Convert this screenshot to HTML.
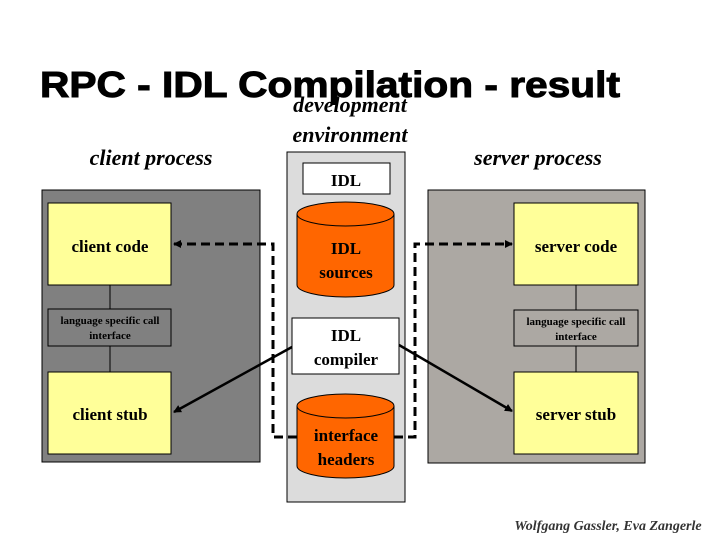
<!DOCTYPE html>
<html><head><style>
body{margin:0;background:#fff;}
svg text{font-family:"Liberation Serif",serif;}
</style></head><body>
<svg width="720" height="540" xmlns="http://www.w3.org/2000/svg">
<defs>
<marker id="ah" markerWidth="8" markerHeight="8" refX="7" refY="4" orient="auto" markerUnits="userSpaceOnUse"><path d="M0,0 L8,4 L0,8 z" fill="#000"/></marker>
</defs>
<text x="40" y="97" style="font-family:'Liberation Sans',sans-serif" font-weight="bold" font-size="36" textLength="580" lengthAdjust="spacingAndGlyphs" stroke="#000" stroke-width="1">RPC - IDL Compilation - result</text>
<text x="350" y="112" text-anchor="middle" font-style="italic" font-weight="bold" font-size="22">development</text>
<text x="350" y="142" text-anchor="middle" font-style="italic" font-weight="bold" font-size="22">environment</text>
<text x="151" y="165" text-anchor="middle" font-style="italic" font-weight="bold" font-size="22">client process</text>
<text x="538" y="165" text-anchor="middle" font-style="italic" font-weight="bold" font-size="22">server process</text>

<rect x="42" y="190" width="218" height="272" fill="#808080" stroke="#000"/>
<rect x="428" y="190" width="217" height="273" fill="#aca8a3" stroke="#000"/>
<rect x="287" y="152" width="118" height="350" fill="#dcdcdc" stroke="#000"/>

<line x1="110" y1="285" x2="110" y2="309" stroke="#000"/>
<line x1="110" y1="346" x2="110" y2="372" stroke="#000"/>
<line x1="576" y1="285" x2="576" y2="310" stroke="#000"/>
<line x1="576" y1="346" x2="576" y2="372" stroke="#000"/>

<rect x="48" y="203" width="123" height="82" fill="#ffff99" stroke="#000"/>
<text x="110" y="252" text-anchor="middle" font-weight="bold" font-size="17">client code</text>
<rect x="48" y="309" width="123" height="37" fill="#808080" stroke="#000"/>
<text x="110" y="324" text-anchor="middle" font-weight="bold" font-size="11">language specific call</text>
<text x="110" y="339" text-anchor="middle" font-weight="bold" font-size="11">interface</text>
<rect x="48" y="372" width="123" height="82" fill="#ffff99" stroke="#000"/>
<text x="110" y="420" text-anchor="middle" font-weight="bold" font-size="17">client stub</text>

<rect x="514" y="203" width="124" height="82" fill="#ffff99" stroke="#000"/>
<text x="576" y="252" text-anchor="middle" font-weight="bold" font-size="17">server code</text>
<rect x="514" y="310" width="124" height="36" fill="#aca8a3" stroke="#000"/>
<text x="576" y="325" text-anchor="middle" font-weight="bold" font-size="11">language specific call</text>
<text x="576" y="340" text-anchor="middle" font-weight="bold" font-size="11">interface</text>
<rect x="514" y="372" width="124" height="82" fill="#ffff99" stroke="#000"/>
<text x="576" y="420" text-anchor="middle" font-weight="bold" font-size="17">server stub</text>

<rect x="303" y="163" width="87" height="31" fill="#fff" stroke="#000"/>
<text x="346" y="186" text-anchor="middle" font-weight="bold" font-size="17">IDL</text>

<path d="M297,214 L297,285 A48.5,12 0 0 0 394,285 L394,214" fill="#ff6600" stroke="#000"/>
<ellipse cx="345.5" cy="214" rx="48.5" ry="12" fill="#ff6600" stroke="#000"/>
<text x="346" y="254" text-anchor="middle" font-weight="bold" font-size="17">IDL</text>
<text x="346" y="278" text-anchor="middle" font-weight="bold" font-size="17">sources</text>

<rect x="292" y="318" width="107" height="56" fill="#fff" stroke="#000"/>
<text x="346" y="341" text-anchor="middle" font-weight="bold" font-size="17">IDL</text>
<text x="346" y="365" text-anchor="middle" font-weight="bold" font-size="17">compiler</text>

<path d="M297,406 L297,466 A48.5,12 0 0 0 394,466 L394,406" fill="#ff6600" stroke="#000"/>
<ellipse cx="345.5" cy="406" rx="48.5" ry="12" fill="#ff6600" stroke="#000"/>

<path d="M297,437 L273,437 L273,244 L174,244" fill="none" stroke="#000" stroke-width="3" stroke-dasharray="9,5" marker-end="url(#ah)"/>
<path d="M394,437 L415,437 L415,244 L512,244" fill="none" stroke="#000" stroke-width="3" stroke-dasharray="9,5" marker-end="url(#ah)"/>
<text x="346" y="441" text-anchor="middle" font-weight="bold" font-size="17">interface</text>
<text x="346" y="465" text-anchor="middle" font-weight="bold" font-size="17">headers</text>

<line x1="292" y1="347" x2="174" y2="412" stroke="#000" stroke-width="2.5" marker-end="url(#ah)"/>
<line x1="399" y1="345" x2="512" y2="411" stroke="#000" stroke-width="2.5" marker-end="url(#ah)"/>

<text x="608" y="530" text-anchor="middle" font-style="italic" font-weight="bold" font-size="14" fill="#333">Wolfgang Gassler, Eva Zangerle</text>
</svg>
</body></html>
